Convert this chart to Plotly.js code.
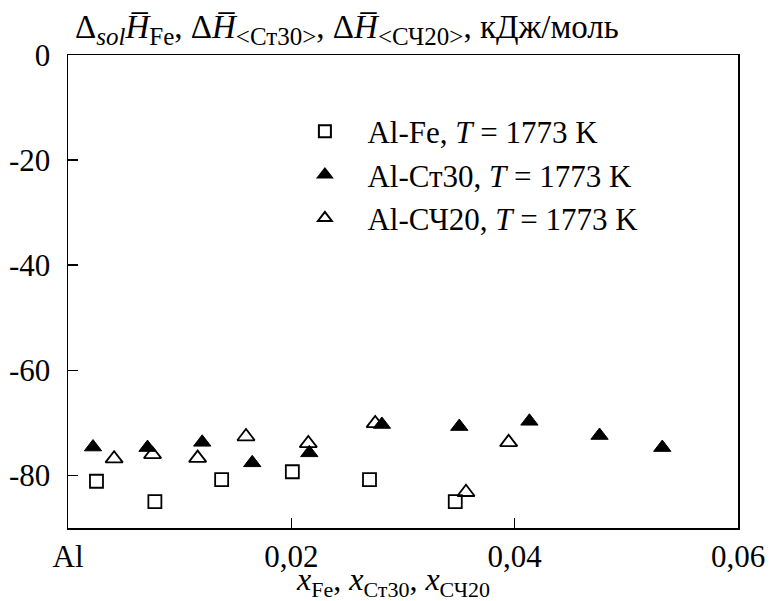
<!DOCTYPE html>
<html><head><meta charset="utf-8">
<script src="https://cdn.plot.ly/plotly-3.0.1.min.js"></script>
<style>body{margin:0;background:#fff}</style>
</head><body><div id="chart" style="width:773px;height:601px"></div>
<script>
// Al-Fe
const feX = [0.00255, 0.00778, 0.01376, 0.02009, 0.02700, 0.03468];
const feY = [-81.1, -85.0, -80.8, -79.3, -80.8, -85.0];
// Al-Ст30
const st30X = [0.00224, 0.00712, 0.01202, 0.0165, 0.02161, 0.02811, 0.03504, 0.04132, 0.0476, 0.05322];
const st30Y = [-74.6, -74.7, -73.7, -77.6, -75.7, -70.3, -70.7, -69.7, -72.4, -74.7];
// Al-СЧ20
const sch20X = [0.00413, 0.00757, 0.01161, 0.01594, 0.02152, 0.02751, 0.03564, 0.03946];
const sch20Y = [-76.8, -76.0, -76.7, -72.6, -73.9, -70.1, -83.2, -73.7];

const xTickVals = [0, 0.02, 0.04, 0.06];
const xTickText = ['Al', '0,02', '0,04', '0,06'];
const yTickVals = [0, -20, -40, -60, -80];
const yTickText = ['0', '-20', '-40', '-60', '-80'];

const FONT = 'Liberation Serif';

const traces = [
  {x: feX, y: feY, type: 'scatter', mode: 'markers', name: 'Al-Fe, <i>T</i> = 1773 K',
   marker: {symbol: 'square-open', size: 13, color: '#000', line: {width: 1.8, color: '#000'}}},
  {x: st30X, y: st30Y, type: 'scatter', mode: 'markers', name: 'Al-Ст30, <i>T</i> = 1773 K',
   marker: {symbol: 'triangle-up', size: 15, color: '#000', line: {width: 1, color: '#000'}}},
  {x: sch20X, y: sch20Y, type: 'scatter', mode: 'markers', name: 'Al-СЧ20, <i>T</i> = 1773 K',
   marker: {symbol: 'triangle-up-open', size: 15, color: '#000', line: {width: 1.8, color: '#000'}}}
];

const SUB = (s, px) => '<sub><span style="font-size:' + px + 'px">' + s + '</span></sub>';

const layout = {
  width: 773, height: 601,
  margin: {l: 68, r: 35, t: 55, b: 73},
  paper_bgcolor: '#fff', plot_bgcolor: '#fff',
  font: {family: FONT, color: '#000', size: 24},
  showlegend: true,
  legend: {x: 0.32, y: 0.895, xanchor: 'left', yanchor: 'top', bgcolor: 'rgba(0,0,0,0)', itemwidth: 75,
           font: {family: FONT, size: 31, color: '#000'}, tracegroupgap: 0, itemsizing: 'constant'},
  xaxis: {range: [0, 0.06], tickvals: xTickVals, ticktext: xTickText, ticks: 'inside', ticklen: 10,
          tickwidth: 1.5, tickcolor: '#000', showline: true, linecolor: '#000', linewidth: 1.5,
          mirror: true, showgrid: false, zeroline: false, ticklabelstandoff: 0,
          tickfont: {family: FONT, size: 31, color: '#000'}},
  yaxis: {range: [-90, 0], tickvals: yTickVals, ticktext: yTickText, ticks: 'inside', ticklen: 10,
          tickwidth: 1.5, tickcolor: '#000', showline: true, linecolor: '#000', linewidth: 1.5,
          mirror: true, showgrid: false, zeroline: false, ticklabelstandoff: 10,
          tickfont: {family: FONT, size: 31, color: '#000'}},
  annotations: [
    {xref: 'paper', yref: 'paper', x: 0.008, y: 1, xanchor: 'left', yanchor: 'bottom', yshift: 3, showarrow: false,
     text: 'Δ' + SUB('<i>sol</i>', 25) + '<i>H̅</i>' + SUB('Fe', 25) + ', Δ<i>H̅</i>' + SUB('&lt;Ст30&gt;', 25) +
           ', Δ<i>H̅</i>' + SUB('&lt;СЧ20&gt;', 25) + ', кДж/моль',
     font: {family: FONT, size: 33, color: '#000'}},
    {xref: 'paper', yref: 'paper', x: 0.337, y: 0, xanchor: 'left', yanchor: 'top', yshift: -31, showarrow: false,
     text: '<i>x</i>' + SUB('Fe', 22) + ', <i>x</i>' + SUB('Ст30', 22) + ', <i>x</i>' + SUB('СЧ20', 22),
     font: {family: FONT, size: 32, color: '#000'}}
  ]
};

Plotly.newPlot('chart', traces, layout, {staticPlot: true, displayModeBar: false});
</script></body></html>
